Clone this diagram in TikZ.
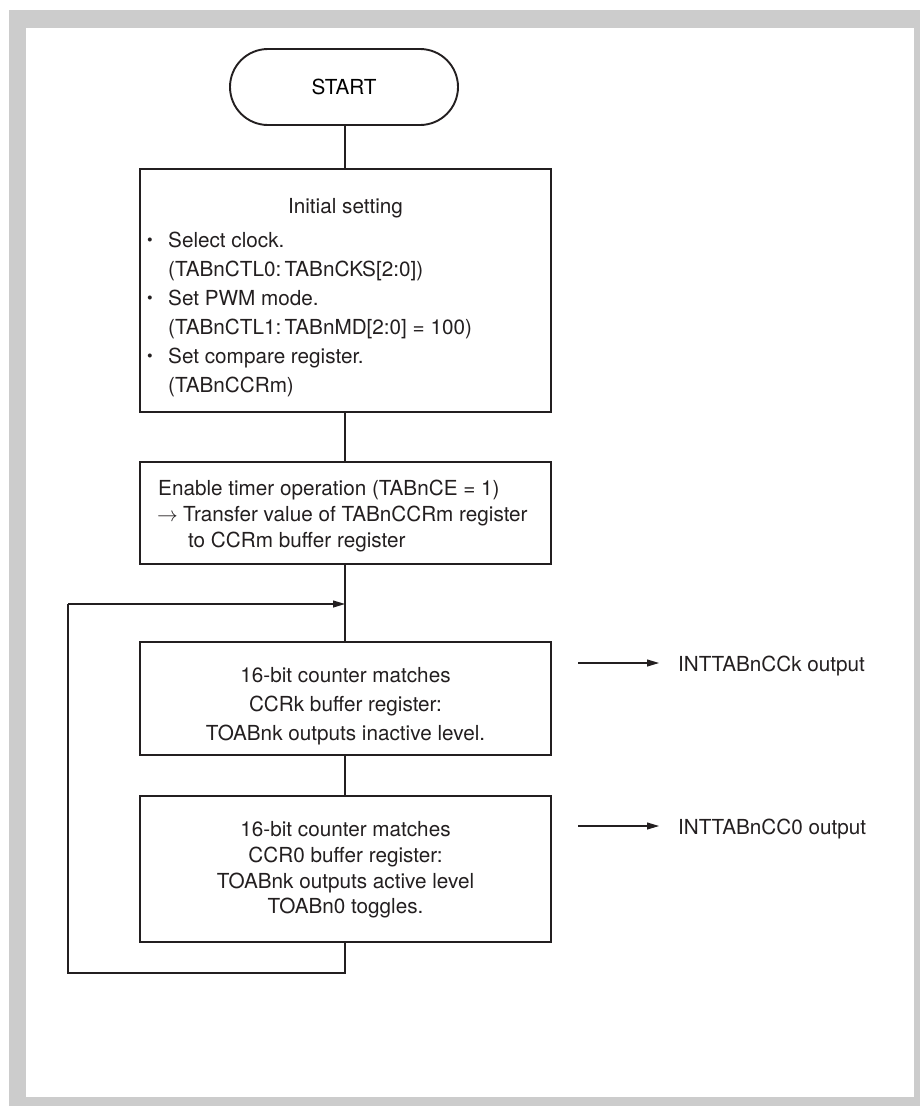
\documentclass[tikz,border=0pt]{standalone}
\usepackage{fontspec}
\setmainfont{TeX Gyre Heros}
\usetikzlibrary{arrows.meta,shapes.misc}
\definecolor{framegray}{HTML}{CCCCCC}
\definecolor{ink}{HTML}{231F20}
\begin{document}
\begin{tikzpicture}[x=1pt,y=-1pt,
  box/.style={draw=ink, line width=1.9pt, minimum width=411pt, inner sep=0pt},
  term/.style={draw=ink, line width=1.9pt, rounded rectangle, minimum width=228pt, minimum height=76pt, inner sep=0pt, font=\fontsize{20.7}{26}\selectfont},
  txt/.style={text=ink, font=\fontsize{20.7}{26}\selectfont, inner sep=0pt, anchor=base},
  txtl/.style={txt, anchor=base west},
  bul/.style={text=ink, font=\fontsize{16}{16}\selectfont, inner sep=0pt, anchor=base west},
  conn/.style={draw=ink, line width=1.1pt},
  arr/.style={conn, -{Triangle[length=12pt,width=7pt]}}]
\useasboundingbox (0,0) rectangle (920,1106);
\fill[framegray] (9,10) rectangle (920,1106);
\fill[white] (26,28) rectangle (914,1097);

% nodes
\node[term] (start) at (344,87) {START};
\node[box, minimum height=243pt] (b1) at (345.5,290.5) {};
\node[box, minimum height=102pt] (b2) at (345.5,513) {};
\node[box, minimum height=113pt] (b3) at (345.5,698.5) {};
\node[box, minimum height=146pt] (b4) at (345.5,869) {};

% box 1 text
\node[txt] (t1a) at (345.5,213) {Initial setting};
\node[bul] (u1) at (147,245) {•};
\node[bul] (u2) at (147,303) {•};
\node[bul] (u3) at (147,361) {•};
\node[txtl] (t1b) at (168,247) {Select clock.};
\node[txtl] (t1c) at (168,276) {(TABnCTL0:\,TABnCKS[2:0])};
\node[txtl] (t1d) at (168,305) {Set PWM mode.};
\node[txtl] (t1e) at (168,334) {(TABnCTL1:\,TABnMD[2:0] = 100)};
\node[txtl] (t1f) at (168,363) {Set compare register.};
\node[txtl] (t1g) at (168,392) {(TABnCCRm)};

% box 2 text
\node[txtl] (t2a) at (158,495) {Enable timer operation (TABnCE = 1)};
\node[txtl] (t2b) at (157,521) {$\rightarrow$};
\node[txtl] (t2c) at (183,521) {Transfer value of TABnCCRm register};
\node[txtl] (t2d) at (188,547) {to CCRm buffer register};

% box 3 text
\node[txt] (t3a) at (345.5,682) {16-bit counter matches};
\node[txt] (t3b) at (345.5,711) {CCRk buffer register:};
\node[txt] (t3c) at (345.5,740) {TOABnk outputs inactive level.};

% box 4 text
\node[txt] (t4a) at (345.5,836) {16-bit counter matches};
\node[txt] (t4b) at (345.5,862) {CCR0 buffer register:};
\node[txt] (t4c) at (345.5,888) {TOABnk outputs active level};
\node[txt] (t4d) at (345.5,913) {TOABn0 toggles.};

% side outputs
\node[txtl] (o1) at (678,671) {INTTABnCCk output};
\node[txtl] (o2) at (678,834) {INTTABnCC0 output};
\coordinate (o1s) at (578,663);
\coordinate (o1e) at (659,663);
\coordinate (o2s) at (578,826);
\coordinate (o2e) at (659,826);

% connectors
\coordinate (loopin) at (345,604);
\coordinate (loopbot) at (345,973);
\coordinate (loopl) at (68,973);
\coordinate (loopt) at (68,604);
\draw[conn] (start.south -| loopin) -- (b1.north -| loopin);
\draw[conn] (b1.south -| loopin) -- (b2.north -| loopin);
\draw[conn] (b2.south -| loopin) -- (b3.north -| loopin);
\draw[conn] (b3.south -| loopin) -- (b4.north -| loopin);
\draw[conn] (b4.south -| loopin) -- (loopbot) -- (loopl) -- (loopt);
\draw[arr] (loopt) -- (loopin);
\draw[arr] (o1s) -- (o1e);
\draw[arr] (o2s) -- (o2e);
\end{tikzpicture}
\end{document}
